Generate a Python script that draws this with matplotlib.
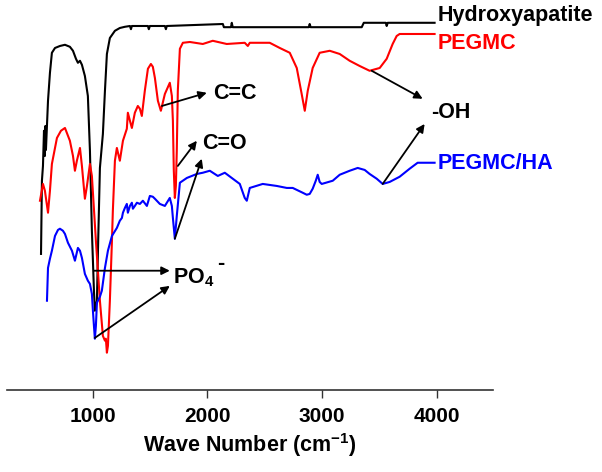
import matplotlib
matplotlib.use("Agg")
import matplotlib.pyplot as plt

plt.rcParams['font.family'] = ['Liberation Sans', 'DejaVu Sans']
plt.rcParams['font.weight'] = 'bold'
plt.rcParams['mathtext.fontset'] = 'custom'
plt.rcParams['mathtext.rm'] = 'Liberation Sans:bold'
plt.rcParams['mathtext.bf'] = 'Liberation Sans:bold'
plt.rcParams['mathtext.default'] = 'bf'

# FTIR spectra, transmittance in arbitrary (offset) units
ha_wn = [547, 555, 564, 573, 581, 585, 590, 608, 625, 642, 669, 712, 756, 799, 826,
         852, 869, 887, 904, 930, 956, 974, 991, 1009, 1017, 1035, 1044, 1061, 1087,
         1105, 1122, 1148, 1192, 1235, 1279, 1323, 1332, 1340, 1410, 1480, 1488, 1497,
         1628, 1637, 1645, 2134, 2143, 2205, 2212, 2220, 2884, 2892, 2900, 3346, 3364,
         3556, 3564, 3573, 3982]
ha_t = [34, 52.3, 56, 64.8, 58.5, 66, 60, 72.3, 79.3, 84.3, 85.5, 86, 86.3, 85.8, 84.8,
        82.8, 81.8, 82.3, 81.3, 78.5, 73.5, 59.8, 39.8, 24.8, 19.8, 22.3, 34.8, 55.5, 64,
        74.8, 84, 88, 89.8, 90.5, 90.8, 91, 90.2, 91, 91, 91, 90.2, 91,
        91, 90.2, 91, 91.5, 90.7, 90.7, 91.8, 90.7, 90.7, 91.5, 90.7, 90.7, 91.8,
        91.8, 91, 91.8, 91.8]

pegmc_wn = [538, 564, 581, 608, 625, 642, 686, 721, 756, 799, 826, 843, 860, 887, 904,
            930, 948, 974, 991, 1026, 1061, 1087, 1105, 1113, 1122, 1131, 1148, 1166,
            1174, 1192, 1209, 1235, 1262, 1296, 1305, 1323, 1340, 1366, 1392, 1410,
            1427, 1453, 1480, 1506, 1523, 1541, 1567, 1593, 1628, 1671, 1689, 1698,
            1706, 1715, 1724, 1732, 1741, 1759, 1785, 1846, 1959, 2046, 2168, 2325,
            2352, 2369, 2543, 2631, 2718, 2779, 2822, 2849, 2875, 2918, 2979, 3067,
            3154, 3241, 3328, 3415, 3503, 3564, 3616, 3651, 3677, 3982]
pegmc_t = [47.3, 51.5, 49.8, 44.3, 49.8, 56.5, 63, 64.8, 65.5, 62.3, 58.5, 54.8, 57.3,
           60.5, 56, 47.8, 51, 56.5, 53.5, 37.3, 22.3, 13.5, 12.3, 12.8, 9.3, 11, 22.3,
           37.3, 44.8, 57.3, 60.5, 57.3, 62.3, 65.3, 69.3, 67.3, 65.5, 69.3, 71, 70.3,
           68.5, 74.8, 80.3, 81.5, 80.8, 78, 72.3, 69.8, 74, 76.8, 73.5, 67.3,
           54.8, 48, 51, 59.8, 74.8, 85.3, 86.8, 87, 86.5, 87.3, 86.5, 86.8,
           86, 86.8, 86.8, 85.5, 84.3, 80.5, 74, 69.8, 74.8, 80.5, 84.3, 84.8,
           84, 82.3, 81, 79.8, 80.5, 82.8, 86.5, 88.5, 89, 89]

comp_wn = [599, 608, 625, 642, 669, 695, 712, 738, 756, 782, 817, 843, 869, 887, 904,
           930, 956, 974, 991, 1000, 1009, 1017, 1026, 1035, 1061, 1078, 1105, 1131,
           1166, 1209, 1235, 1253, 1262, 1279, 1296, 1305, 1323, 1340, 1349, 1366,
           1384, 1410, 1436, 1471, 1497, 1523, 1541, 1584, 1628, 1671, 1689, 1698,
           1715, 1732, 1759, 1820, 1907, 1959, 2020, 2090, 2151, 2221, 2282, 2325,
           2343, 2369, 2482, 2604, 2692, 2744, 2831, 2866, 2892, 2918, 2945, 2962,
           2979, 2997, 3093, 3154, 3241, 3311, 3372, 3415, 3477, 3529, 3590, 3677,
           3764, 3834, 3982]
comp_t = [22.3, 30.5, 32.8, 34.8, 38.5, 40, 40.3, 39.8, 39, 36.8, 34.8, 32.3, 35.5,
          34.8, 33, 29, 27.3, 26.5, 24, 19.8, 16, 12.8, 16, 21.8, 23.3, 24.8, 30.5,
          34.8, 38.5, 40.5, 42.3, 43, 44.3, 45.5, 46.5, 44.3, 46, 46.8, 45.3, 46,
          46.8, 46.5, 47.3, 46, 48.5, 48.3, 47.8, 46.5, 46, 48, 46, 43,
          37.8, 43.5, 51.8, 53, 54, 54.3, 54.8, 53.5, 54.3, 52.8, 51.5, 48,
          47.3, 50.5, 51.5, 51, 50.5, 50.5, 49.3, 48.8, 49, 50.3, 52.3, 53.8,
          52, 51.5, 52.3, 53.8, 54.8, 55.5, 55, 54, 52.8, 51.5, 52, 53.3,
          55.3, 56.8, 56.8]

names = ['Hydroxyapatite', 'PEGMC', 'PEGMC/HA']
colors = ['black', '#ff0000', '#0000ff']
label_t = [93.5, 86.5, 56.5]

fig = plt.figure(figsize=(6.02, 4.72), dpi=100)
ax = fig.add_axes([0.0116, 0.174, 0.807, 0.826])

series = [(ha_wn, ha_t), (pegmc_wn, pegmc_t), (comp_wn, comp_t)]
for (wn, t), name, c, ly in zip(series, names, colors, label_t):
    ax.plot(wn, t, color=c, lw=1.5)
    ax.text(4008, ly, name, color=c, fontsize=15.5, fontweight='bold',
            ha='left', va='center', clip_on=False)

arrow = dict(arrowstyle='-|>', color='black', lw=1.3, mutation_scale=12,
             shrinkA=0, shrinkB=0)
fs = 15.5
# band assignments
ax.annotate('', xy=(1994, 74.3), xytext=(1602, 71), arrowprops=arrow)
ax.text(2046, 74, 'C=C', fontsize=fs, ha='left', va='center')
ax.annotate('', xy=(1907, 62.3), xytext=(1741, 56), arrowprops=arrow)
ax.annotate('', xy=(1950, 57.8), xytext=(1715, 37.8), arrowprops=arrow)
ax.text(1950, 61.5, 'C=O', fontsize=fs, ha='left', va='center')
ax.annotate('', xy=(1671, 29.8), xytext=(1009, 29.8), arrowprops=arrow)
ax.annotate('', xy=(1671, 26), xytext=(1017, 13), arrowprops=arrow)
ax.text(1698, 28, r'PO$_4$', fontsize=fs, ha='left', va='center')
ax.text(2085, 31.5, '-', fontsize=fs, ha='left', va='center')
ax.annotate('', xy=(3878, 72.8), xytext=(3433, 79.8), arrowprops=arrow)
ax.annotate('', xy=(3895, 66.5), xytext=(3529, 51.5), arrowprops=arrow)
ax.text(3956, 69.3, '-OH', fontsize=fs, ha='left', va='center')

ax.set_xlim(250, 4490)
ax.set_ylim(0, 97.5)
for s in ['left', 'right', 'top']:
    ax.spines[s].set_visible(False)
ax.spines['bottom'].set_color('#333333')
ax.spines['bottom'].set_linewidth(1.2)
ax.set_yticks([])
ax.set_xticks([1000, 2000, 3000, 4000])
ax.tick_params(axis='x', direction='out', length=6, width=1, color='#333333',
               labelsize=15, pad=6)
ax.set_xlabel('Wave Number (cm$^{\\mathrm{-1}}$)', fontsize=15.5, fontweight='bold',
              labelpad=4)

plt.savefig("out.png", dpi=100)
